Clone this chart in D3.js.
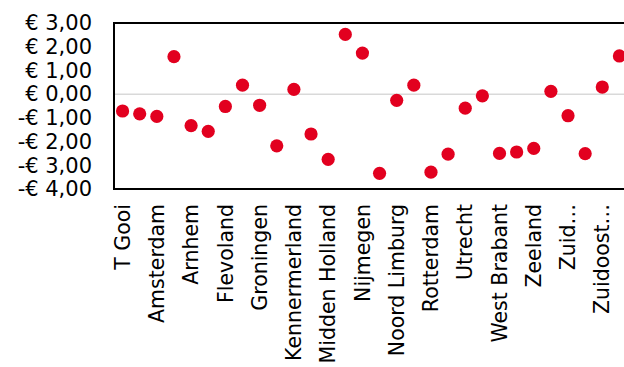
<!DOCTYPE html>
<html>
<head>
<meta charset="utf-8">
<script src="https://cdn.jsdelivr.net/npm/d3@7"></script>
<style>
  html, body { margin: 0; padding: 0; background: #fff; }
  svg { display: block; }
  text { font-family: "DejaVu Sans", Verdana, sans-serif; fill: #000; }
</style>
</head>
<body>
<svg id="chart" width="624" height="367"></svg>
<script>
// Regions in display order (every other one carries a visible label)
const categories = [
  "T Gooi", "Achterhoek", "Amsterdam", "Apeldoorn", "Arnhem", "Drenthe",
  "Flevoland", "Friesland", "Groningen", "Haaglanden", "Kennermerland", "Limburg",
  "Midden Holland", "Midden Nederland", "Nijmegen", "Noord Holland", "Noord Limburg", "Oost Brabant",
  "Rotterdam", "Twente", "Utrecht", "Veluwe", "West Brabant", "Zaanstreek",
  "Zeeland", "Zuid Holland", "Zuid Limburg", "Zuid Holland Zuid", "Zuidoost Brabant", "Zwolle"
];
// Difference per region, in euro
const values = [
  -0.71, -0.83, -0.94, 1.58, -1.33, -1.57,
  -0.52, 0.38, -0.47, -2.18, 0.20, -1.68,
  -2.75, 2.52, 1.73, -3.34, -0.26, 0.38,
  -3.29, -2.53, -0.59, -0.07, -2.50, -2.44,
  -2.29, 0.12, -0.91, -2.51, 0.30, 1.61
];
// Axis tick labels as shown (long names are shortened)
const tickLabels = {
  "T Gooi": "T Gooi", "Amsterdam": "Amsterdam", "Arnhem": "Arnhem",
  "Flevoland": "Flevoland", "Groningen": "Groningen", "Kennermerland": "Kennermerland",
  "Midden Holland": "Midden Holland", "Nijmegen": "Nijmegen", "Noord Limburg": "Noord Limburg",
  "Rotterdam": "Rotterdam", "Utrecht": "Utrecht", "West Brabant": "West Brabant",
  "Zeeland": "Zeeland", "Zuid Limburg": "Zuid…", "Zuidoost Brabant": "Zuidoost…"
};
const yTicks = [-4, -3, -2, -1, 0, 1, 2, 3];

const svg = d3.select("#chart");
const plot = { left: 114, top: 23, bottom: 189, right: 628 };

const x = d3.scaleBand().domain(categories).range([plot.left, plot.right]);
const y = d3.scaleLinear().domain([-4, 3]).range([plot.bottom, plot.top]);

const euro = v => (v < 0 ? "-" : "") + "€ " + d3.format(".2f")(Math.abs(v)).replace(".", ",");

// Zero line
svg.append("line")
  .attr("x1", plot.left).attr("x2", plot.right)
  .attr("y1", y(0)).attr("y2", y(0))
  .attr("stroke", "#d9d9d9").attr("stroke-width", 1.5);

// Frame: top, bottom and left edges
svg.append("line").attr("x1", plot.left).attr("x2", plot.right)
  .attr("y1", plot.top).attr("y2", plot.top).attr("stroke", "#000").attr("stroke-width", 2);
svg.append("line").attr("x1", plot.left).attr("x2", plot.right)
  .attr("y1", plot.bottom).attr("y2", plot.bottom).attr("stroke", "#000").attr("stroke-width", 2);
svg.append("line").attr("x1", plot.left).attr("x2", plot.left)
  .attr("y1", plot.top - 1).attr("y2", plot.bottom + 1).attr("stroke", "#000").attr("stroke-width", 2);

// Y axis labels
const yAxis = d3.axisLeft(y).tickValues(yTicks).tickFormat(euro).tickSize(0).tickPadding(22);
const yg = svg.append("g").attr("transform", `translate(${plot.left},0)`).call(yAxis);
yg.select(".domain").remove();
yg.selectAll("text").style("font-family", '"DejaVu Sans", Verdana, sans-serif')
  .style("font-size", "21px").attr("fill", "#000");

// X axis labels, rotated
const xAxis = d3.axisBottom(x).tickSize(0).tickFormat(d => tickLabels[d] || "");
const xg = svg.append("g").attr("transform", `translate(0,${plot.bottom})`).call(xAxis);
xg.select(".domain").remove();
xg.selectAll("text")
  .style("font-family", '"DejaVu Sans", Verdana, sans-serif')
  .style("font-size", "20.5px").attr("fill", "#000")
  .attr("text-anchor", "end")
  .attr("dy", "0.35em")
  .attr("transform", "translate(0,15) rotate(-90)")
  .attr("x", 0).attr("y", 0);

// Points
svg.append("g").selectAll("circle")
  .data(categories.map((c, i) => ({ c, v: values[i] })))
  .join("circle")
  .attr("cx", d => x(d.c) + x.bandwidth() / 2)
  .attr("cy", d => y(d.v))
  .attr("r", 6.6)
  .attr("fill", "#e2001f");
</script>
</body>
</html>
